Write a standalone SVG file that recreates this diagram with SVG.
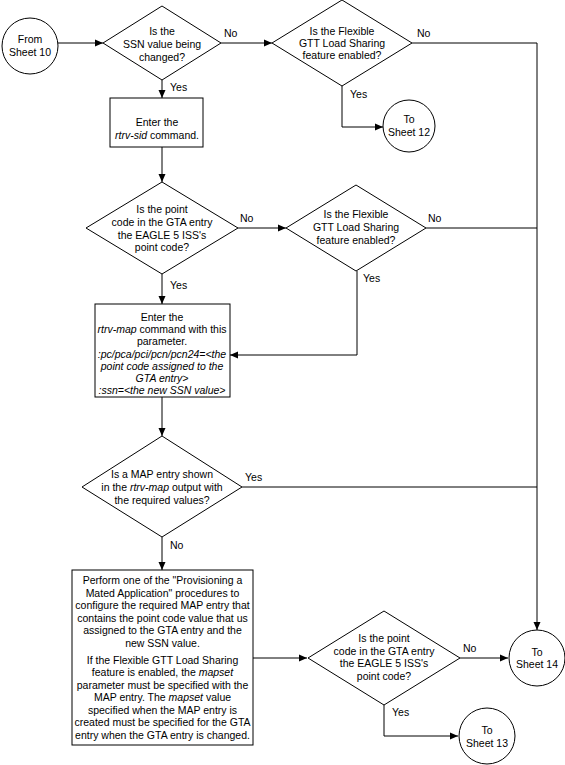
<svg xmlns="http://www.w3.org/2000/svg" width="565" height="765" viewBox="0 0 565 765">
<style>
.s{fill:#fff;stroke:#000;stroke-width:1}
.c{fill:none;stroke:#000;stroke-width:1}
text{font-family:"Liberation Sans",Arial,sans-serif;font-size:10.5px;fill:#000;text-anchor:middle}
.l{text-anchor:start}
.i{font-style:italic}
</style>
<defs>
<marker id="a" markerWidth="8" markerHeight="8" refX="8" refY="4" orient="auto" markerUnits="userSpaceOnUse">
<path d="M0,0.5 L8,4 L0,7.5 Z" fill="#000"/>
</marker>
</defs>
<rect width="565" height="765" fill="#fff"/>
<g id="connectors">
<path class="c" d="M58,43 H103" marker-end="url(#a)"/>
<path class="c" d="M221,43 H272" marker-end="url(#a)"/>
<path class="c" d="M412,43 H537 V630" marker-end="url(#a)"/>
<path class="c" d="M342,86 V127 H383" marker-end="url(#a)"/>
<path class="c" d="M162,80 V98" marker-end="url(#a)"/>
<path class="c" d="M162,147 V182" marker-end="url(#a)"/>
<path class="c" d="M238,228 H286" marker-end="url(#a)"/>
<path class="c" d="M426,228 H537"/>
<path class="c" d="M357,271 V355 H230" marker-end="url(#a)"/>
<path class="c" d="M162,274 V304" marker-end="url(#a)"/>
<path class="c" d="M162,397 V436" marker-end="url(#a)"/>
<path class="c" d="M242,487 H537"/>
<path class="c" d="M162,537 V570" marker-end="url(#a)"/>
<path class="c" d="M253,658 H307" marker-end="url(#a)"/>
<path class="c" d="M460,658 H508" marker-end="url(#a)"/>
<path class="c" d="M384,705 V736 H458" marker-end="url(#a)"/>
<text class="l" x="224" y="37">No</text>
<text class="l" x="417" y="37">No</text>
<text class="l" x="170" y="91">Yes</text>
<text class="l" x="350" y="98">Yes</text>
<text class="l" x="240" y="222">No</text>
<text class="l" x="428" y="222">No</text>
<text class="l" x="170" y="289">Yes</text>
<text class="l" x="363" y="282">Yes</text>
<text class="l" x="245" y="481">Yes</text>
<text class="l" x="170" y="549">No</text>
<text class="l" x="463" y="652">No</text>
<text class="l" x="392" y="716">Yes</text>
</g>
<g id="from10">
<circle class="s" cx="30" cy="46" r="28"/>
<text x="30" y="43">From</text>
<text x="30" y="56">Sheet 10</text>
</g>
<g id="d1">
<polygon class="s" points="162,6 221,43 162,80 103,43"/>
<text x="162" y="35">Is the</text>
<text x="162" y="48">SSN value being</text>
<text x="162" y="61">changed?</text>
</g>
<g id="d2">
<polygon class="s" points="342,0 412,43 342,86 272,43"/>
<text x="342" y="35">Is the Flexible</text>
<text x="342" y="47">GTT Load Sharing</text>
<text x="342" y="59">feature enabled?</text>
</g>
<g id="to12">
<circle class="s" cx="409" cy="126" r="26"/>
<text x="409" y="123">To</text>
<text x="409" y="136">Sheet 12</text>
</g>
<g id="rtrvsid">
<rect class="s" x="110" y="98" width="93" height="49"/>
<text x="157" y="126">Enter the</text>
<text x="157" y="139"><tspan class="i">rtrv-sid</tspan> command.</text>
</g>
<g id="d3">
<polygon class="s" points="162,182 238,228 162,274 86,228"/>
<text x="162" y="213">Is the point</text>
<text x="162" y="226">code in the GTA entry</text>
<text x="162" y="239">the EAGLE 5 ISS's</text>
<text x="162" y="251">point code?</text>
</g>
<g id="d4">
<polygon class="s" points="356,185 426,228 356,271 286,228"/>
<text x="356" y="218">Is the Flexible</text>
<text x="356" y="231">GTT Load Sharing</text>
<text x="356" y="244">feature enabled?</text>
</g>
<g id="rtrvmap">
<rect class="s" x="95" y="304" width="135" height="93"/>
<text x="162" y="321">Enter the</text>
<text x="162" y="333"><tspan class="i">rtrv-map</tspan> command with this</text>
<text x="162" y="345">parameter.</text>
<text x="162" y="358" class="i">:pc/pca/pci/pcn/pcn24=&lt;the</text>
<text x="162" y="370" class="i">point code assigned to the</text>
<text x="162" y="382" class="i">GTA entry&gt;</text>
<text x="162" y="394" class="i">:ssn=&lt;the new SSN value&gt;</text>
</g>
<g id="d5">
<polygon class="s" points="162,436 242,487 162,537 82,487"/>
<text x="162" y="478">Is a MAP entry shown</text>
<text x="162" y="491">in the <tspan class="i">rtrv-map</tspan> output with</text>
<text x="162" y="504">the required values?</text>
</g>
<g id="mapbox">
<rect class="s" x="72" y="570" width="181" height="175"/>
<text x="162.5" y="584">Perform one of the "Provisioning a</text>
<text x="162.5" y="597">Mated Application" procedures to</text>
<text x="162.5" y="609">configure the required MAP entry that</text>
<text x="162.5" y="622">contains the point code value that us</text>
<text x="162.5" y="634">assigned to the GTA entry and the</text>
<text x="162.5" y="647">new SSN value.</text>
<text x="162.5" y="664">If the Flexible GTT Load Sharing</text>
<text x="162.5" y="676">feature is enabled, the <tspan class="i">mapset</tspan></text>
<text x="162.5" y="689">parameter must be specified with the</text>
<text x="162.5" y="701">MAP entry. The <tspan class="i">mapset</tspan> value</text>
<text x="162.5" y="714">specified when the MAP entry is</text>
<text x="162.5" y="726">created must be specified for the GTA</text>
<text x="162.5" y="739">entry when the GTA entry is changed.</text>
</g>
<g id="d6">
<polygon class="s" points="384,611 460,658 384,705 308,658"/>
<text x="384" y="642">Is the point</text>
<text x="384" y="655">code in the GTA entry</text>
<text x="384" y="667">the EAGLE 5 ISS's</text>
<text x="384" y="680">point code?</text>
</g>
<g id="to14">
<circle class="s" cx="537" cy="658" r="28"/>
<text x="537" y="656">To</text>
<text x="537" y="668">Sheet 14</text>
</g>
<g id="to13">
<circle class="s" cx="487" cy="736" r="28"/>
<text x="487" y="734">To</text>
<text x="487" y="747">Sheet 13</text>
</g>
</svg>
